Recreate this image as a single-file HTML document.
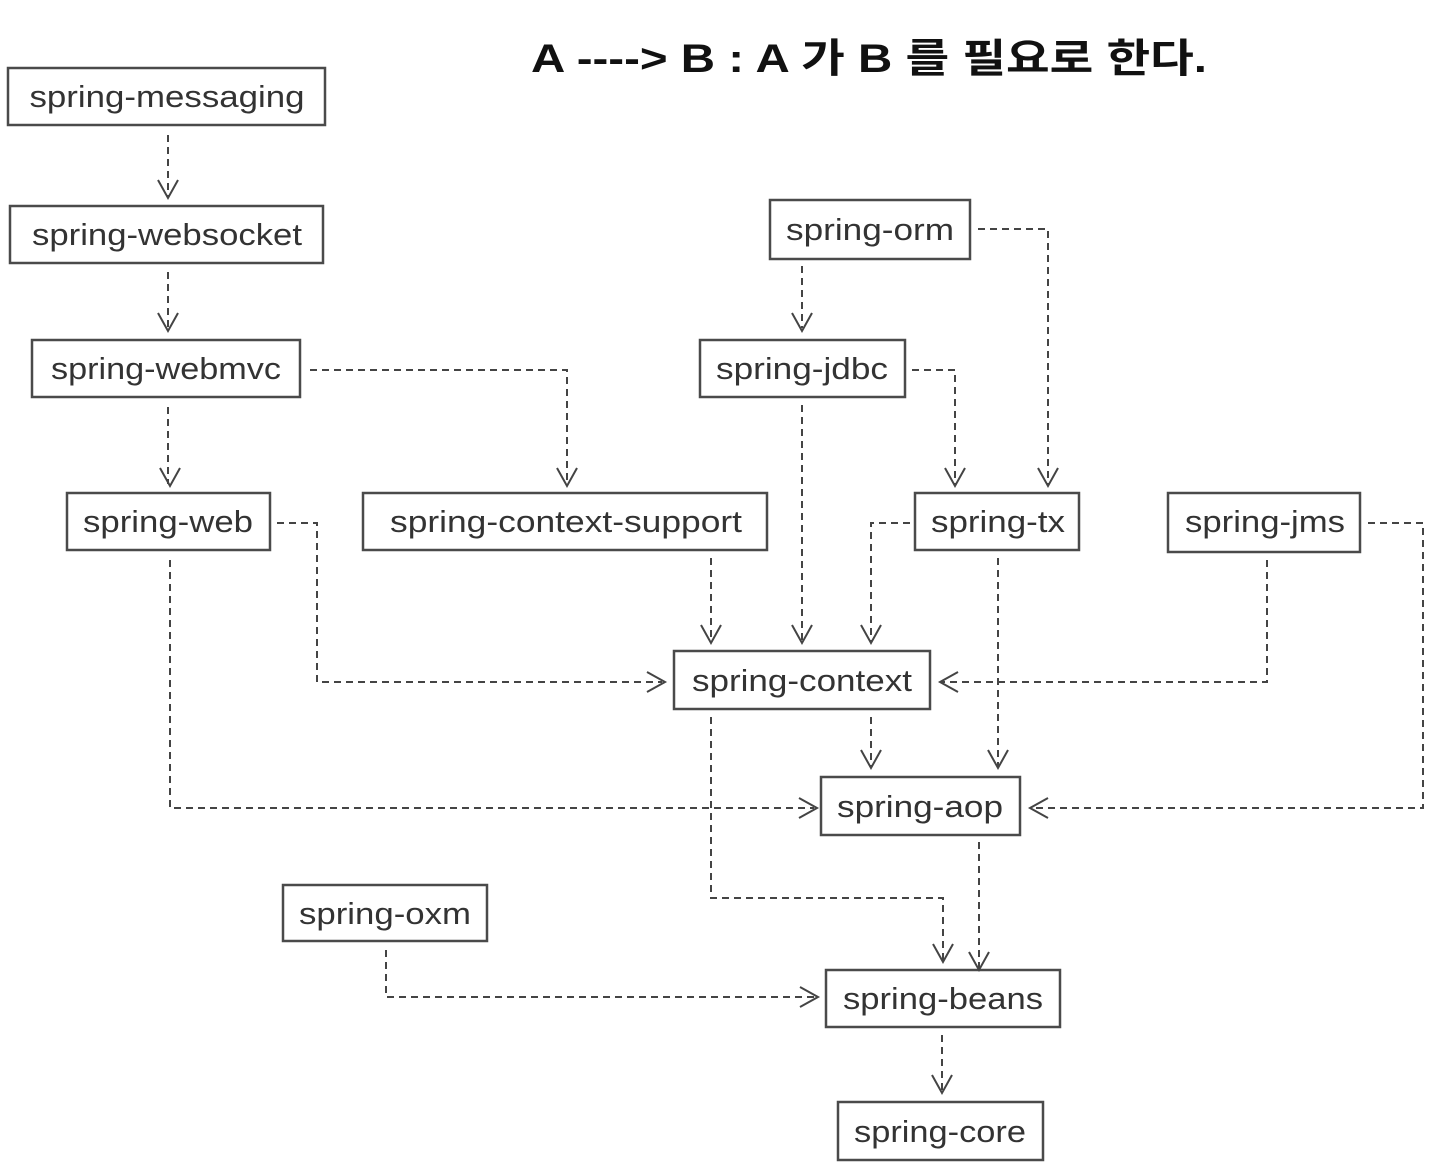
<!DOCTYPE html>
<html><head><meta charset="utf-8"><style>html,body{margin:0;padding:0;background:#fff}svg{display:block}</style></head>
<body>
<svg width="1434" height="1164" viewBox="0 0 1434 1164" xmlns="http://www.w3.org/2000/svg">
<text x="531" y="72" font-family="Liberation Sans, Noto Sans CJK KR, sans-serif" font-weight="bold" font-size="40" fill="#111" textLength="676" lengthAdjust="spacingAndGlyphs">A ----&gt; B  : A 가 B 를 필요로 한다.</text>
<g fill="#fff" stroke="#4a4a4a" stroke-width="2.5">
<rect x="8" y="68" width="317" height="57"/>
<rect x="10" y="206" width="313" height="57"/>
<rect x="32" y="340" width="268" height="57"/>
<rect x="67" y="493" width="203" height="57"/>
<rect x="363" y="493" width="404" height="57"/>
<rect x="770" y="200" width="200" height="59"/>
<rect x="700" y="340" width="205" height="57"/>
<rect x="915" y="493" width="164" height="57"/>
<rect x="1168" y="493" width="192" height="59"/>
<rect x="674" y="651" width="256" height="58"/>
<rect x="821" y="777" width="199" height="58"/>
<rect x="283" y="885" width="204" height="56"/>
<rect x="826" y="970" width="234" height="57"/>
<rect x="838" y="1102" width="205" height="58"/>
</g>
<g font-family="Liberation Sans, sans-serif" font-size="31" fill="#333" text-anchor="middle" lengthAdjust="spacingAndGlyphs">
<text x="167" y="107" textLength="275" lengthAdjust="spacingAndGlyphs">spring-messaging</text>
<text x="167" y="245" textLength="270" lengthAdjust="spacingAndGlyphs">spring-websocket</text>
<text x="166" y="379" textLength="230" lengthAdjust="spacingAndGlyphs">spring-webmvc</text>
<text x="168" y="532" textLength="170" lengthAdjust="spacingAndGlyphs">spring-web</text>
<text x="566" y="532" textLength="352" lengthAdjust="spacingAndGlyphs">spring-context-support</text>
<text x="870" y="240" textLength="168" lengthAdjust="spacingAndGlyphs">spring-orm</text>
<text x="802" y="379" textLength="172" lengthAdjust="spacingAndGlyphs">spring-jdbc</text>
<text x="998" y="532" textLength="134" lengthAdjust="spacingAndGlyphs">spring-tx</text>
<text x="1265" y="532" textLength="160" lengthAdjust="spacingAndGlyphs">spring-jms</text>
<text x="802" y="691" textLength="220" lengthAdjust="spacingAndGlyphs">spring-context</text>
<text x="920" y="817" textLength="166" lengthAdjust="spacingAndGlyphs">spring-aop</text>
<text x="385" y="924" textLength="172" lengthAdjust="spacingAndGlyphs">spring-oxm</text>
<text x="943" y="1009" textLength="200" lengthAdjust="spacingAndGlyphs">spring-beans</text>
<text x="940" y="1142" textLength="172" lengthAdjust="spacingAndGlyphs">spring-core</text>
</g>
<g fill="none" stroke="#444" stroke-width="2" stroke-dasharray="7 5">
<path d="M168 135V196"/>
<path d="M168 272V328"/>
<path d="M168 407V484"/>
<path d="M310 370H567V484"/>
<path d="M802 266V328"/>
<path d="M978 229H1048V484"/>
<path d="M912 370H955V484"/>
<path d="M802 405V641"/>
<path d="M711 558V641"/>
<path d="M910 523H871V641"/>
<path d="M998 558V766"/>
<path d="M277 523H317V682H662"/>
<path d="M1267 560V682H942"/>
<path d="M1368 523H1423V808H1032"/>
<path d="M170 560V808H814"/>
<path d="M871 717V766"/>
<path d="M711 717V898H943V960"/>
<path d="M979 842V968"/>
<path d="M386 950V997H817"/>
<path d="M942 1035V1091"/>
</g>
<g fill="none" stroke="#444" stroke-width="2">
<path d="M158 180L168 198L178 180"/>
<path d="M158 313L168 331L178 313"/>
<path d="M160 468L170 486L180 468"/>
<path d="M557 468L567 486L577 468"/>
<path d="M792 313L802 331L812 313"/>
<path d="M1038 468L1048 486L1058 468"/>
<path d="M945 468L955 486L965 468"/>
<path d="M792 625L802 643L812 625"/>
<path d="M701 625L711 643L721 625"/>
<path d="M861 625L871 643L881 625"/>
<path d="M988 750L998 768L1008 750"/>
<path d="M861 750L871 768L881 750"/>
<path d="M647 672L665 682L647 692"/>
<path d="M958 672L940 682L958 692"/>
<path d="M1048 798L1030 808L1048 818"/>
<path d="M799 798L817 808L799 818"/>
<path d="M933 944L943 962L953 944"/>
<path d="M969 952L979 970L989 952"/>
<path d="M800 987L818 997L800 1007"/>
<path d="M932 1075L942 1093L952 1075"/>
</g>
</svg>
</body></html>
